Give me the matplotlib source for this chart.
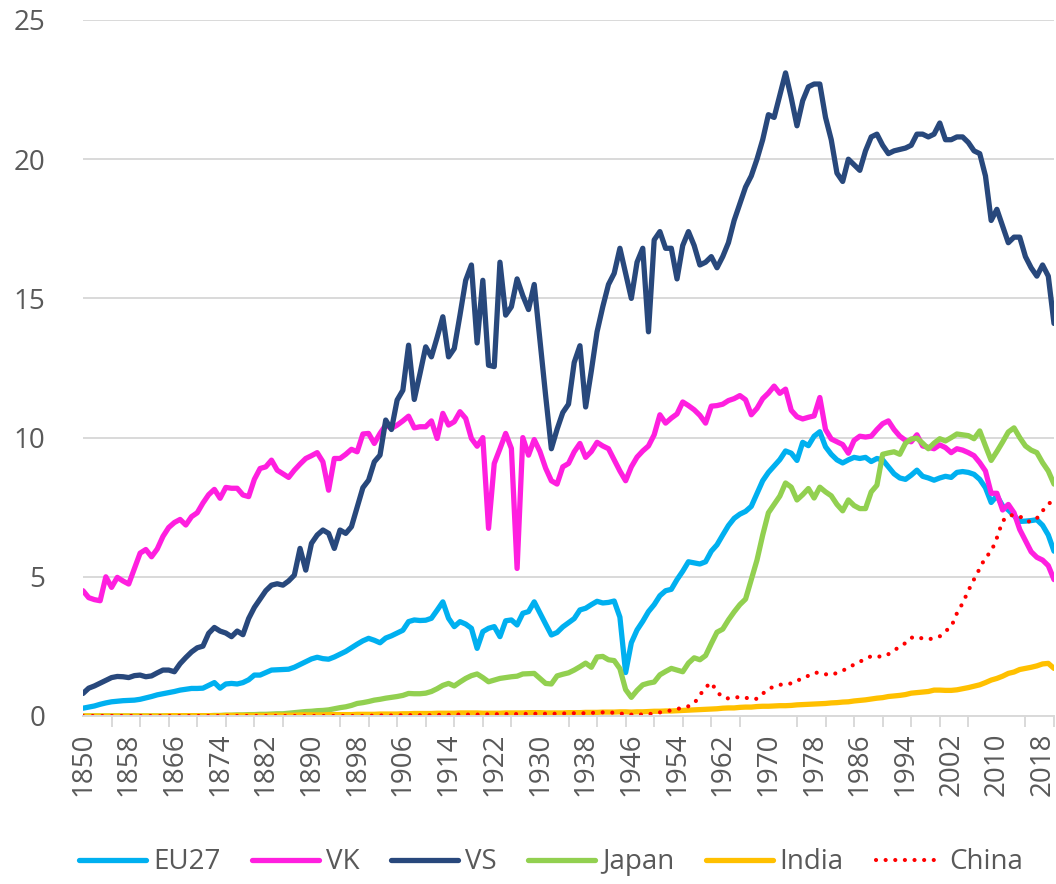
import matplotlib
matplotlib.use("Agg")
import matplotlib.pyplot as plt
from matplotlib.lines import Line2D

plt.rcParams['font.family'] = ['Open Sans', 'DejaVu Sans']

# CO2-uitstoot per inwoner (ton), 1850-2020
years = list(range(1850, 2021))

eu27 = [0.28, 0.32, 0.36, 0.42, 0.47, 0.51, 0.53, 0.55, 0.56, 0.57,
        0.60, 0.65, 0.70, 0.76, 0.80, 0.84, 0.88, 0.93, 0.96, 0.99,
        0.99, 1.00, 1.10, 1.20, 1.00, 1.15, 1.17, 1.15, 1.20, 1.30,
        1.47, 1.47, 1.56, 1.65, 1.66, 1.67, 1.68, 1.75, 1.85, 1.95,
        2.05, 2.11, 2.06, 2.04, 2.12, 2.22, 2.32, 2.45, 2.58, 2.70,
        2.79, 2.72, 2.63, 2.80, 2.88, 2.98, 3.08, 3.39, 3.45, 3.43,
        3.44, 3.51, 3.80, 4.10, 3.51, 3.21, 3.39, 3.30, 3.15, 2.43,
        3.03, 3.15, 3.21, 2.85, 3.42, 3.45, 3.27, 3.69, 3.75, 4.10,
        3.70, 3.30, 2.91, 3.00, 3.20, 3.35, 3.50, 3.81, 3.87, 4.00,
        4.12, 4.06, 4.08, 4.13, 3.55, 1.56, 2.63, 3.09, 3.40, 3.75,
        4.00, 4.32, 4.50, 4.55, 4.90, 5.20, 5.54, 5.50, 5.46, 5.54,
        5.92, 6.15, 6.50, 6.84, 7.10, 7.25, 7.35, 7.53, 7.99, 8.45,
        8.75, 8.98, 9.21, 9.52, 9.44, 9.18, 9.83, 9.71, 10.05, 10.21,
        9.67, 9.40, 9.20, 9.09, 9.20, 9.29, 9.25, 9.29, 9.14, 9.25,
        9.20, 8.95, 8.70, 8.55, 8.50, 8.65, 8.83, 8.61, 8.55, 8.47,
        8.55, 8.61, 8.57, 8.75, 8.78, 8.75, 8.68, 8.50, 8.20, 7.67,
        7.91, 7.55, 7.40, 7.20, 6.99, 7.00, 7.02, 7.05, 6.85, 6.50,
        5.92]

vk = [4.50, 4.25, 4.18, 4.14, 5.00, 4.62, 4.98, 4.85, 4.74, 5.30,
      5.85, 5.98, 5.72, 6.00, 6.45, 6.77, 6.95, 7.06, 6.86, 7.16,
      7.30, 7.65, 7.95, 8.14, 7.82, 8.21, 8.18, 8.18, 7.94, 7.88,
      8.50, 8.89, 8.95, 9.19, 8.83, 8.70, 8.57, 8.83, 9.05, 9.25,
      9.35, 9.46, 9.13, 8.11, 9.25, 9.25, 9.40, 9.58, 9.49, 10.13,
      10.15, 9.79, 10.15, 10.45, 10.33, 10.45, 10.60, 10.77, 10.35, 10.39,
      10.39, 10.60, 9.97, 10.87, 10.45, 10.57, 10.93, 10.69, 9.97, 9.69,
      10.00, 6.74, 9.07, 9.60, 10.15, 9.61, 5.30, 10.00, 9.37, 9.93,
      9.50, 8.90, 8.45, 8.33, 8.95, 9.07, 9.49, 9.79, 9.29, 9.50,
      9.83, 9.70, 9.60, 9.20, 8.80, 8.45, 8.95, 9.30, 9.52, 9.70,
      10.10, 10.82, 10.52, 10.70, 10.85, 11.28, 11.15, 11.00, 10.80, 10.52,
      11.13, 11.15, 11.20, 11.33, 11.40, 11.51, 11.36, 10.82, 11.05, 11.40,
      11.60, 11.85, 11.59, 11.74, 10.98, 10.75, 10.67, 10.73, 10.78, 11.44,
      10.29, 9.95, 9.85, 9.75, 9.44, 9.90, 10.05, 10.02, 10.05, 10.29,
      10.50, 10.60, 10.29, 10.05, 9.90, 9.85, 10.10, 9.70, 9.65, 9.60,
      9.74, 9.64, 9.46, 9.60, 9.55, 9.46, 9.35, 9.10, 8.80, 8.00,
      8.00, 7.40, 7.60, 7.30, 6.70, 6.30, 5.90, 5.70, 5.60, 5.40,
      4.90]

vs = [0.81, 1.00, 1.08, 1.18, 1.28, 1.38, 1.42, 1.41, 1.38, 1.45,
      1.47, 1.41, 1.44, 1.55, 1.65, 1.65, 1.59, 1.88, 2.10, 2.30,
      2.45, 2.51, 2.97, 3.18, 3.05, 2.98, 2.85, 3.05, 2.92, 3.50,
      3.90, 4.20, 4.50, 4.70, 4.75, 4.70, 4.85, 5.06, 6.02, 5.24,
      6.20, 6.50, 6.68, 6.56, 6.02, 6.68, 6.56, 6.80, 7.50, 8.20,
      8.47, 9.13, 9.37, 10.63, 10.29, 11.35, 11.70, 13.32, 11.37, 12.30,
      13.26, 12.90, 13.60, 14.34, 12.90, 13.20, 14.40, 15.65, 16.20, 13.40,
      15.65, 12.60, 12.55, 16.30, 14.40, 14.70, 15.70, 15.10, 14.60, 15.50,
      13.50, 11.50, 9.60, 10.30, 10.90, 11.20, 12.70, 13.30, 11.10, 12.40,
      13.80, 14.70, 15.50, 15.90, 16.80, 15.90, 15.00, 16.30, 16.80, 13.80,
      17.10, 17.40, 16.80, 16.80, 15.70, 16.90, 17.40, 16.90, 16.20, 16.30,
      16.50, 16.10, 16.50, 17.00, 17.80, 18.40, 19.00, 19.40, 20.00, 20.70,
      21.60, 21.50, 22.30, 23.10, 22.20, 21.20, 22.10, 22.60, 22.70, 22.70,
      21.50, 20.70, 19.50, 19.20, 20.00, 19.80, 19.60, 20.30, 20.80, 20.90,
      20.50, 20.20, 20.30, 20.35, 20.40, 20.50, 20.90, 20.90, 20.80, 20.90,
      21.30, 20.70, 20.70, 20.80, 20.80, 20.60, 20.30, 20.20, 19.40, 17.80,
      18.20, 17.60, 17.00, 17.20, 17.20, 16.50, 16.10, 15.80, 16.20, 15.80,
      14.10]

japan = [0.00, 0.00, 0.00, 0.00, 0.00, 0.00, 0.00, 0.00, 0.00, 0.00,
         0.00, 0.00, 0.00, 0.00, 0.00, 0.00, 0.00, 0.00, 0.01, 0.01,
         0.01, 0.01, 0.01, 0.02, 0.02, 0.03, 0.03, 0.04, 0.04, 0.05,
         0.05, 0.06, 0.06, 0.07, 0.08, 0.08, 0.10, 0.12, 0.14, 0.16,
         0.17, 0.19, 0.20, 0.22, 0.26, 0.30, 0.33, 0.38, 0.45, 0.48,
         0.52, 0.57, 0.60, 0.64, 0.67, 0.70, 0.74, 0.81, 0.80, 0.80,
         0.82, 0.88, 0.98, 1.10, 1.17, 1.08, 1.22, 1.35, 1.45, 1.51,
         1.38, 1.23, 1.29, 1.35, 1.38, 1.41, 1.43, 1.51, 1.52, 1.53,
         1.35, 1.17, 1.15, 1.44, 1.50, 1.55, 1.65, 1.77, 1.90, 1.75,
         2.12, 2.14, 2.02, 1.99, 1.70, 0.95, 0.67, 0.92, 1.12, 1.18,
         1.22, 1.48, 1.60, 1.71, 1.65, 1.59, 1.90, 2.09, 2.02, 2.17,
         2.60, 3.01, 3.12, 3.45, 3.74, 4.00, 4.20, 4.90, 5.60, 6.50,
         7.30, 7.60, 7.90, 8.37, 8.22, 7.76, 7.95, 8.17, 7.83, 8.22,
         8.05, 7.91, 7.60, 7.37, 7.76, 7.56, 7.45, 7.45, 8.05, 8.29,
         9.40, 9.45, 9.49, 9.40, 9.80, 9.95, 9.98, 9.80, 9.60, 9.80,
         9.96, 9.88, 10.00, 10.13, 10.10, 10.07, 9.96, 10.24, 9.70, 9.18,
         9.50, 9.84, 10.20, 10.35, 10.00, 9.70, 9.55, 9.46, 9.10, 8.80,
         8.33]

india = [0.00, 0.00, 0.00, 0.00, 0.00, 0.00, 0.00, 0.00, 0.00, 0.00,
         0.00, 0.00, 0.00, 0.00, 0.00, 0.01, 0.01, 0.01, 0.01, 0.01,
         0.01, 0.01, 0.01, 0.01, 0.01, 0.02, 0.02, 0.02, 0.02, 0.02,
         0.02, 0.02, 0.02, 0.03, 0.03, 0.03, 0.03, 0.03, 0.04, 0.04,
         0.04, 0.04, 0.04, 0.05, 0.05, 0.05, 0.05, 0.05, 0.06, 0.06,
         0.06, 0.06, 0.07, 0.07, 0.07, 0.07, 0.08, 0.08, 0.09, 0.09,
         0.09, 0.09, 0.10, 0.10, 0.10, 0.10, 0.11, 0.11, 0.11, 0.11,
         0.10, 0.10, 0.10, 0.10, 0.11, 0.11, 0.11, 0.11, 0.12, 0.12,
         0.12, 0.11, 0.11, 0.11, 0.11, 0.12, 0.12, 0.12, 0.13, 0.13,
         0.13, 0.14, 0.14, 0.14, 0.15, 0.15, 0.14, 0.15, 0.15, 0.16,
         0.17, 0.17, 0.18, 0.18, 0.19, 0.20, 0.21, 0.22, 0.23, 0.24,
         0.25, 0.26, 0.28, 0.29, 0.29, 0.31, 0.32, 0.32, 0.34, 0.35,
         0.35, 0.36, 0.37, 0.37, 0.38, 0.40, 0.41, 0.42, 0.43, 0.44,
         0.45, 0.47, 0.48, 0.50, 0.51, 0.54, 0.56, 0.58, 0.61, 0.64,
         0.66, 0.70, 0.72, 0.74, 0.77, 0.82, 0.84, 0.86, 0.88, 0.93,
         0.93, 0.92, 0.92, 0.94, 0.98, 1.02, 1.07, 1.12, 1.20, 1.29,
         1.35, 1.43, 1.53, 1.58, 1.67, 1.71, 1.75, 1.80, 1.87, 1.89,
         1.71]

china = [0.00, 0.00, 0.00, 0.00, 0.00, 0.00, 0.00, 0.00, 0.00, 0.00,
         0.00, 0.00, 0.00, 0.00, 0.00, 0.00, 0.00, 0.00, 0.00, 0.00,
         0.00, 0.00, 0.00, 0.00, 0.00, 0.00, 0.00, 0.00, 0.00, 0.00,
         0.00, 0.00, 0.00, 0.00, 0.00, 0.00, 0.00, 0.00, 0.00, 0.00,
         0.00, 0.00, 0.00, 0.00, 0.00, 0.00, 0.00, 0.00, 0.00, 0.00,
         0.01, 0.01, 0.02, 0.02, 0.02, 0.02, 0.03, 0.03, 0.03, 0.03,
         0.03, 0.03, 0.04, 0.04, 0.04, 0.05, 0.05, 0.05, 0.05, 0.05,
         0.06, 0.06, 0.06, 0.07, 0.07, 0.07, 0.07, 0.07, 0.08, 0.08,
         0.08, 0.08, 0.08, 0.08, 0.09, 0.09, 0.10, 0.10, 0.10, 0.11,
         0.12, 0.13, 0.12, 0.12, 0.10, 0.05, 0.05, 0.06, 0.05, 0.06,
         0.10, 0.13, 0.17, 0.20, 0.25, 0.30, 0.35, 0.45, 0.75, 1.03,
         1.20, 0.87, 0.67, 0.63, 0.65, 0.69, 0.66, 0.60, 0.62, 0.80,
         0.97, 1.06, 1.12, 1.15, 1.17, 1.28, 1.33, 1.45, 1.55, 1.56,
         1.50, 1.47, 1.55, 1.63, 1.73, 1.85, 1.95, 2.05, 2.15, 2.14,
         2.13, 2.22, 2.35, 2.50, 2.62, 2.81, 2.85, 2.78, 2.75, 2.80,
         2.86, 3.05, 3.20, 3.69, 4.05, 4.50, 4.91, 5.30, 5.70, 5.90,
         6.40, 7.00, 7.20, 7.22, 7.18, 7.00, 6.98, 7.10, 7.37, 7.60,
         7.80]

series = [
    ('EU27', eu27, '#00B0F0', '-'),
    ('VK', vk, '#FF1FDF', '-'),
    ('VS', vs, '#28487C', '-'),
    ('Japan', japan, '#92D050', '-'),
    ('India', india, '#FFC000', '-'),
    ('China', china, '#FF0000', ':'),
]

grey = '#595959'
light = '#D9D9D9'

fig = plt.figure(figsize=(10.56, 8.84), dpi=100)
ax = fig.add_axes([83 / 1056, 1 - 716 / 884, (1054 - 83) / 1056, (716 - 20) / 884])

handles = []
for name, vals, col, ls in series:
    if ls == ':':
        line, = ax.plot(years, vals, color=col, lw=3.0, linestyle=(0, (0.01, 2.3)),
                        dash_capstyle='round', label=name)
    else:
        line, = ax.plot(years, vals, color=col, lw=3.8, solid_joinstyle='round',
                        solid_capstyle='round', label=name)
    handles.append(line)

ax.set_xlim(1850, 2020)
ax.set_ylim(0, 25)
ax.set_yticks(range(0, 26, 5))
ax.yaxis.grid(True, color=light, lw=1.4)
ax.set_axisbelow(True)

for s in ['top', 'right', 'left']:
    ax.spines[s].set_visible(False)
ax.spines['bottom'].set_color(light)
ax.spines['bottom'].set_linewidth(1.4)

ax.set_xticks(range(1850, 2019, 8))
ax.set_xticklabels([str(y) for y in range(1850, 2019, 8)], rotation=90)
ax.set_xticks(range(1850, 2021, 5), minor=True)
ax.tick_params(axis='x', which='major', length=0, pad=12, labelsize=20, labelcolor=grey)
ax.tick_params(axis='x', which='minor', length=8, width=1.4, color=light)
ax.tick_params(axis='y', length=0, pad=27, labelsize=20, labelcolor=grey)

leg_handles = []
for name, vals, col, ls in series:
    if ls == ':':
        leg_handles.append(Line2D([], [], color=col, lw=3.0, linestyle=(0, (0.01, 2.3)),
                                  dash_capstyle='round'))
    else:
        leg_handles.append(Line2D([], [], color=col, lw=3.8, solid_capstyle='round'))

fig.legend(leg_handles, [s[0] for s in series], loc='center',
           bbox_to_anchor=(0.522, 0.0245), ncol=6, frameon=False, fontsize=20,
           handlelength=2.4, handletextpad=0.25, columnspacing=1.15,
           labelcolor=grey)

fig.savefig('out.png', dpi=100)
